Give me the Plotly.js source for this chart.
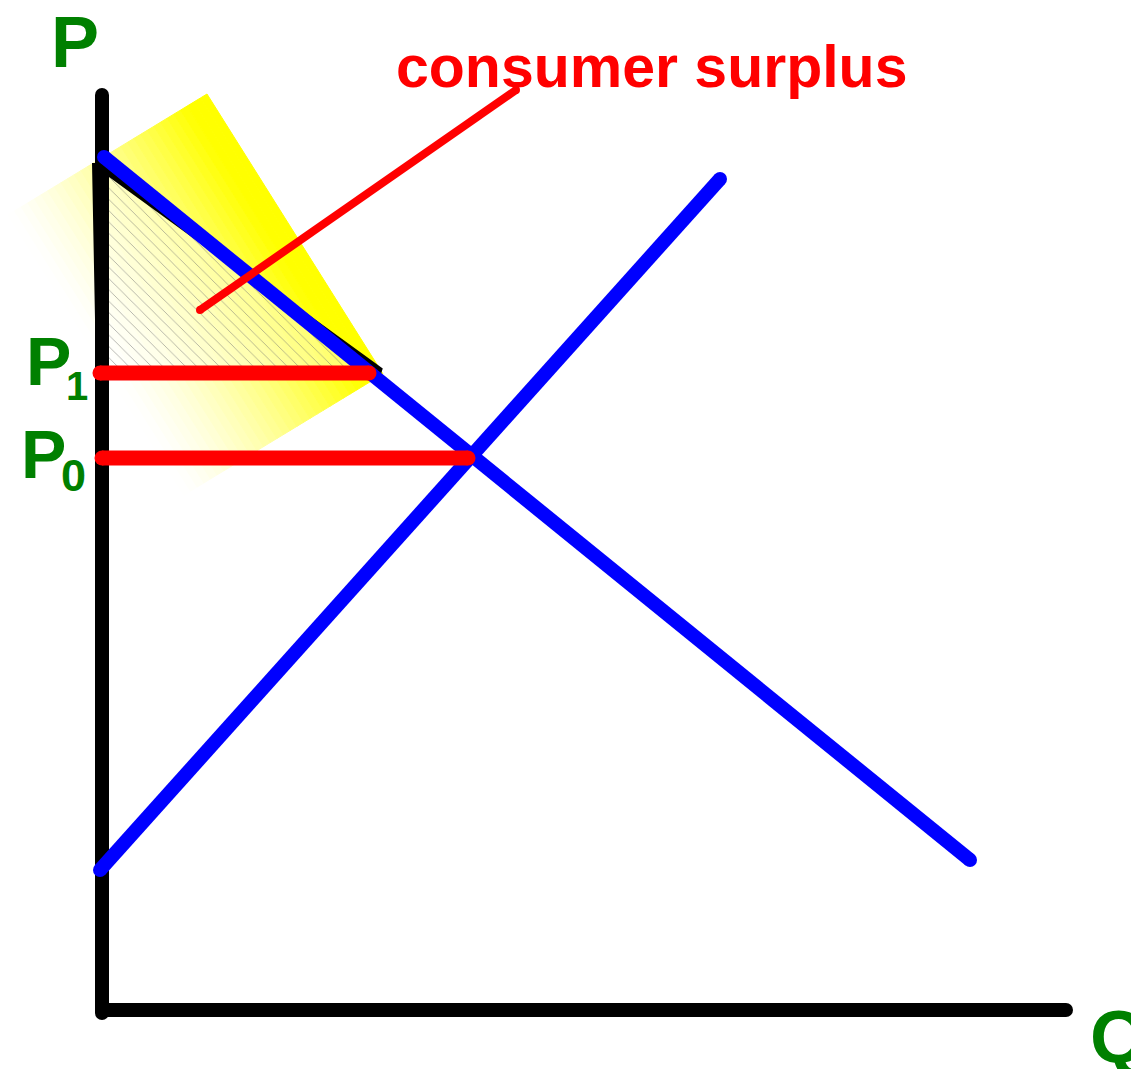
<!DOCTYPE html>
<html>
<head>
<meta charset="utf-8">
<script src="https://cdn.plot.ly/plotly-3.0.1.min.js"></script>
<style>html,body{margin:0;padding:0;background:#fff;}#chart{width:1131px;height:1069px;}</style>
</head>
<body>
<div id="chart"></div>
<script>
// Quantity (Q) and price (P) coordinates (arbitrary units)
const pAxisQ = [0, 0],        pAxisP = [91.5, -0.3];
const qAxisQ = [0, 96.4],     qAxisP = [0, 0];
const demandQ = [0.2, 86.8],  demandP = [85.3, 15.0];
const supplyQ = [-0.2, 61.8], supplyP = [14.0, 83.1];
const p0LineQ = [0, 36.6],    p0LineP = [55.2, 55.2];
const p1LineQ = [-0.2, 26.7], p1LineP = [63.7, 63.7];
const surplusQ = [-0.7, 27.9, -0.3, -0.7], surplusP = [84.7, 63.9, 63.9, 84.7];
const pointerQ = [9.8, 41.4], pointerP = [70.0, 92.0];
// highlight parallelogram corners: left, top, right, bottom
const glowQ = [-9.4, 10.5, 28.1, 8.2], glowP = [79.5, 91.6, 63.6, 51.5];

const labelTexts = ['P', 'P', '1', 'P', '0', 'Q'];
const labelQ     = [-2.7, -5.4, -2.5, -5.85, -2.9, 101.7];
const labelP     = [96.8, 64.9, 62.4, 55.56, 53.46, -2.64];
const labelSizes = [72, 68, 40, 68, 45, 74];
const titleText = 'consumer surplus';
const titleQ = 29.3, titleP = 94.3;

const traces = [];
// gradient highlight built from strips across the parallelogram
const N = 30;
function lerp(a, b, t) { return a + (b - a) * t; }
for (let i = 0; i < N; i++) {
  const t0 = i / N, t1 = (i + 1) / N;
  const xs = [lerp(glowQ[0], glowQ[1], t0), lerp(glowQ[0], glowQ[1], t1), lerp(glowQ[3], glowQ[2], t1), lerp(glowQ[3], glowQ[2], t0)];
  const ys = [lerp(glowP[0], glowP[1], t0), lerp(glowP[0], glowP[1], t1), lerp(glowP[3], glowP[2], t1), lerp(glowP[3], glowP[2], t0)];
  xs.push(xs[0]); ys.push(ys[0]);
  const tm = (t0 + t1) / 2;
  const f = Math.min(1, Math.pow(tm / 0.9, 1.4));
  const b = Math.round(255 * (1 - f));
  const col = 'rgb(255,255,' + b + ')';
  traces.push({x: xs, y: ys, mode: 'lines', fill: 'toself', fillcolor: col,
    line: {color: col, width: 1}, hoverinfo: 'skip'});
}
// hatched consumer surplus triangle
traces.push({x: surplusQ, y: surplusP, mode: 'lines', fill: 'toself',
  fillcolor: 'rgba(255,255,255,0.4)',
  fillpattern: {shape: '\\', size: 8, solidity: 0.1, fgcolor: 'rgba(110,110,110,0.6)', bgcolor: 'rgba(255,255,255,0.4)'},
  line: {color: '#000', width: 6, shape: 'linear'}, hoverinfo: 'skip'});

function seg(x, y, color, w) {
  return {x: x, y: y, mode: 'lines+markers', line: {color: color, width: w},
    marker: {color: color, size: w, line: {width: 0}}, cliponaxis: false, hoverinfo: 'skip'};
}
traces.push(seg(pAxisQ, pAxisP, '#000', 14));
traces.push(seg(qAxisQ, qAxisP, '#000', 14));
traces.push(seg(supplyQ, supplyP, '#0000ff', 14));
traces.push(seg(demandQ, demandP, '#0000ff', 14));
traces.push(seg(p1LineQ, p1LineP, '#ff0000', 15));
traces.push(seg(p0LineQ, p0LineP, '#ff0000', 15));
traces.push(seg(pointerQ, pointerP, '#ff0000', 8));

const labelFont = '"Liberation Sans Narrow", "Arial Narrow", "Liberation Sans", Arial, sans-serif';
const annotations = labelTexts.map((t, i) => ({
  x: labelQ[i], y: labelP[i], text: '<b>' + t + '</b>', showarrow: false,
  xanchor: 'center', yanchor: 'middle', borderpad: 0,
  font: {family: labelFont, size: labelSizes[i], color: 'rgb(0,128,0)'}
}));
annotations.push({x: titleQ, y: titleP, text: '<b>' + titleText + '</b>', showarrow: false,
  xanchor: 'left', yanchor: 'middle', borderpad: 0,
  font: {family: '"Liberation Sans", Arial, sans-serif', size: 59, color: '#ff0000'}});

const layout = {
  width: 1131, height: 1069,
  margin: {l: 0, r: 0, t: 0, b: 0, pad: 0},
  paper_bgcolor: '#fff', plot_bgcolor: '#fff',
  showlegend: false,
  xaxis: {range: [-10.2, 102.9], visible: false, fixedrange: true},
  yaxis: {range: [-5.9, 101.0], visible: false, fixedrange: true},
  annotations: annotations
};
Plotly.newPlot('chart', traces, layout, {displayModeBar: false, staticPlot: true});
</script>
</body>
</html>
